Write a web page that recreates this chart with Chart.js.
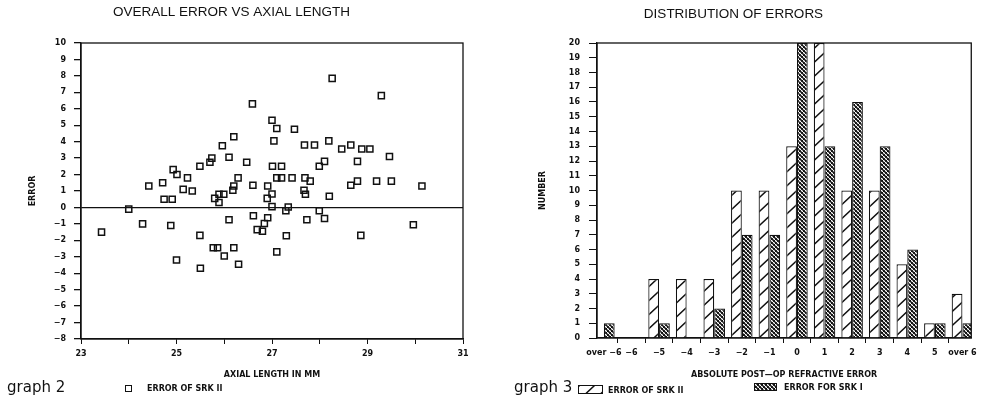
<!DOCTYPE html>
<html>
<head>
<meta charset="utf-8">
<script src="https://cdn.jsdelivr.net/npm/chart.js@4.4.1/dist/chart.umd.min.js"></script>
<style>
  html, body { margin: 0; padding: 0; background: #fff; }
  #wrap { position: relative; width: 982px; height: 400px; overflow: hidden; }
  .panel { position: absolute; top: 0; width: 491px; height: 400px; }
  #left { left: 0; }
  #right { left: 491px; }
  .foot { position: absolute; color: #111; white-space: nowrap; }
  .graph { font: 15px/15px "DejaVu Sans", sans-serif; }
  .leg { font: bold 8px/8px "DejaVu Sans", sans-serif; }
  .box { position: absolute; box-sizing: border-box; border: 1px solid #111; }
</style>
</head>
<body>
<div id="wrap">
  <canvas id="left" class="panel" width="491" height="400"></canvas>
  <canvas id="right" class="panel" width="491" height="400"></canvas>

  <div class="foot graph" style="left:7px; top:380px;">graph 2</div>
  <div class="box" style="left:125px; top:385px; width:7px; height:7px; border-width:1.5px;"></div>
  <div class="foot leg" style="left:147px; top:385px;">ERROR OF SRK II</div>

  <div class="foot graph" style="left:514px; top:380px;">graph 3</div>
  <div class="box" id="sw2" style="left:578px; top:385px; width:25px; height:9px;"></div>
  <div class="foot leg" style="left:608px; top:387px;">ERROR OF SRK II</div>
  <div class="box" id="sw1" style="left:754px; top:383px; width:23px; height:8px;"></div>
  <div class="foot leg" style="left:784px; top:384px;">ERROR FOR SRK I</div>
</div>

<script>
// ---- graph 2 : error vs axial length ----
const AXIAL = [23.43, 24.0, 24.29, 24.42, 24.71, 24.74, 24.91, 24.88, 24.93, 25.01,
  25.0, 25.14, 25.23, 25.33, 25.49, 25.49, 25.5, 25.7, 25.74, 25.8,
  25.77, 25.86, 25.89, 25.89, 25.99, 25.96, 26.0, 26.1, 26.1, 26.18,
  26.2, 26.2, 26.2, 26.29, 26.3, 26.47, 26.59, 26.6, 26.61, 26.69,
  26.8, 26.84, 26.91, 26.91, 26.9, 27.0, 27.0, 27.01, 27.0, 27.04,
  27.1, 27.1, 27.1, 27.2, 27.2, 27.29, 27.34, 27.3, 27.42, 27.47,
  27.68, 27.67, 27.69, 27.7, 27.73, 27.8, 27.89, 27.99, 27.99, 28.1,
  28.1, 28.19, 28.2, 28.26, 28.46, 28.65, 28.65, 28.79, 28.79, 28.88,
  28.86, 29.05, 29.19, 29.29, 29.46, 29.5, 29.96, 30.14];
const ERR = [-1.5, -0.1, -1.0, 1.3, 1.5, 0.5, 0.5, -1.1, 2.3, 2.0,
  -3.2, 1.1, 1.8, 1.0, 2.5, -1.7, -3.7, 2.75, 3.0, 0.55,
  -2.45, -2.45, 0.8, 0.3, 0.8, 3.75, -2.95, 3.05, -0.75, 1.05,
  1.3, 4.3, -2.45, 1.8, -3.45, 2.75, 6.3, 1.35, -0.5, -1.35,
  -1.45, -0.98, -0.63, 1.3, 0.55, 5.3, 0.82, 2.5, 0.05, 4.05,
  4.8, 1.8, -2.7, 1.8, 2.5, -0.2, 0.03, -1.72, 1.8, 4.75,
  3.8, 1.05, 1.8, 0.8, -0.75, 1.6, 3.8, 2.5, -0.2, 2.8,
  -0.67, 4.05, 0.68, 7.85, 3.55, 3.8, 1.35, 2.8, 1.6, 3.55,
  -1.7, 3.55, 1.6, 6.8, 3.1, 1.6, -1.05, 1.3];

// ---- graph 3 : distribution of errors ----
const CATS = ['over \u22126', '\u22126', '\u22125', '\u22124', '\u22123', '\u22122', '\u22121',
  '0', '1', '2', '3', '4', '5', 'over 6'];
const SRK2 = [0, 0, 4, 4, 4, 10, 10, 13, 20, 10, 10, 5, 1, 3];
const SRK1 = [1, 0, 1, 0, 2, 7, 7, 20, 13, 16, 13, 6, 1, 1];

const INK = '#111';
const tickFont = { family: 'DejaVu Sans', size: 8, weight: 'bold' };
const titleFont = { family: 'Liberation Sans', size: 13.5, weight: 'normal' };
const minus = v => (v < 0 ? '\u2212' + Math.abs(v) : '' + v);

// hatch tiles (used for the bars and the html legend swatches)
function tile(kind) {
  const c = document.createElement('canvas');
  const g = c.getContext('2d');
  if (kind === 'slash') {
    c.width = 15; c.height = 14;
    g.fillStyle = '#fff'; g.fillRect(0, 0, 15, 14);
    g.strokeStyle = INK; g.lineWidth = 1.5;
    g.beginPath();
    g.moveTo(0, 14); g.lineTo(15, 0);
    g.moveTo(-1, 1); g.lineTo(1, -1);
    g.moveTo(14, 15); g.lineTo(16, 13);
    g.stroke();
  } else {
    c.width = 4; c.height = 4;
    g.fillStyle = INK; g.fillRect(0, 0, 4, 4);
    g.strokeStyle = '#fff'; g.lineWidth = 1.3;
    g.beginPath(); g.moveTo(0, 0); g.lineTo(4, 4); g.stroke();
    g.strokeStyle = INK; g.lineWidth = 0.8;
    g.beginPath(); g.moveTo(0, 4); g.lineTo(4, 0); g.stroke();
  }
  return c;
}
const slashTile = tile('slash');
const crossTile = tile('cross');
document.getElementById('sw2').style.background = 'url(' + slashTile.toDataURL() + ')';
document.getElementById('sw1').style.background = 'url(' + crossTile.toDataURL() + ')';

// full frame around the plot area
const frame = {
  id: 'frame',
  afterDatasetsDraw(chart) {
    const { ctx, chartArea: a } = chart;
    ctx.save();
    ctx.strokeStyle = INK;
    ctx.lineWidth = 1.3;
    ctx.strokeRect(a.left, a.top, a.right - a.left, a.bottom - a.top);
    ctx.restore();
  }
};

new Chart(document.getElementById('left'), {
  type: 'scatter',
  data: {
    datasets: [{
      label: 'ERROR OF SRK II',
      data: AXIAL.map((x, i) => ({ x, y: ERR[i] })),
      pointStyle: 'rect',
      pointRadius: 4.3,
      borderColor: INK,
      borderWidth: 1.5,
      backgroundColor: 'rgba(0,0,0,0)'
    }]
  },
  options: {
    responsive: false,
    animation: false,
    layout: { padding: { left: 0, right: 28, top: 0, bottom: 16 } },
    plugins: {
      legend: { display: false },
      tooltip: { enabled: false },
      title: {
        display: true, text: 'OVERALL ERROR VS AXIAL LENGTH', color: INK,
        font: titleFont, padding: { top: 3.9, bottom: 22.9 }
      }
    },
    scales: {
      x: {
        type: 'linear', min: 23, max: 31,
        afterFit: s => { s.height = 45; },
        ticks: { stepSize: 1, color: INK, font: tickFont, padding: 5.2, maxRotation: 0,
          callback: v => (v % 2 === 1 ? v : '') },
        grid: { drawOnChartArea: false, tickColor: INK, tickLength: 5 },
        border: { color: INK, width: 1.3 },
        title: { display: true, text: 'AXIAL LENGTH IN MM', color: INK, font: tickFont,
          padding: { top: 0, bottom: 4.7 } }
      },
      y: {
        min: -8, max: 10,
        afterFit: s => { s.width = 81; },
        ticks: { stepSize: 1, color: INK, font: tickFont, padding: 8, callback: minus },
        grid: {
          color: c => (c.tick && c.tick.value === 0 ? INK : 'rgba(0,0,0,0)'),
          lineWidth: 1.3, tickColor: INK, tickLength: 7
        },
        border: { color: INK, width: 1.3 },
        title: { display: true, text: 'ERROR', color: INK, font: tickFont,
          padding: { top: 28.2, bottom: 0 } }
      }
    }
  },
  plugins: [frame]
});

new Chart(document.getElementById('right'), {
  type: 'bar',
  data: {
    datasets: [{
      label: 'ERROR OF SRK II',
      data: SRK2.map((y, i) => ({ x: i, y })),
      backgroundColor: document.createElement('canvas').getContext('2d').createPattern(slashTile, 'repeat'),
      borderColor: INK, borderWidth: 1.2,
      categoryPercentage: 0.78, barPercentage: 1
    }, {
      label: 'ERROR FOR SRK I',
      data: SRK1.map((y, i) => ({ x: i, y })),
      backgroundColor: document.createElement('canvas').getContext('2d').createPattern(crossTile, 'repeat'),
      borderColor: INK, borderWidth: 1.2,
      categoryPercentage: 0.78, barPercentage: 1
    }]
  },
  options: {
    responsive: false,
    animation: false,
    layout: { padding: { left: 0, right: 6, top: 0, bottom: 16 } },
    plugins: {
      legend: { display: false },
      tooltip: { enabled: false },
      title: {
        display: true, text: 'DISTRIBUTION OF ERRORS', color: INK,
        font: titleFont, padding: { top: 6.2, bottom: 20.6 }
      }
    },
    scales: {
      x: {
        type: 'linear', min: -0.25, max: 13.32, offset: false,
        afterFit: s => { s.height = 46; },
        ticks: { stepSize: 1, includeBounds: false, autoSkip: false, maxRotation: 0,
          color: INK, font: tickFont, padding: 5.2,
          callback: v => (Number.isInteger(v) ? CATS[v] : '') },
        grid: { drawOnChartArea: false, tickColor: INK, tickLength: 5 },
        border: { color: INK, width: 1.3 },
        title: { display: true, text: 'ABSOLUTE POST\u2014OP REFRACTIVE ERROR', color: INK,
          font: tickFont, padding: { top: 0, bottom: 4.7 } }
      },
      y: {
        min: 0, max: 20,
        afterFit: s => { s.width = 106; },
        ticks: { stepSize: 1, color: INK, font: tickFont, padding: 9 },
        grid: { drawOnChartArea: false, tickColor: INK, tickLength: 8 },
        border: { color: INK, width: 1.3 },
        title: { display: true, text: 'NUMBER', color: INK, font: tickFont,
          padding: { top: 47.2, bottom: 0 } }
      }
    }
  },
  plugins: [frame]
});
</script>
</body>
</html>
